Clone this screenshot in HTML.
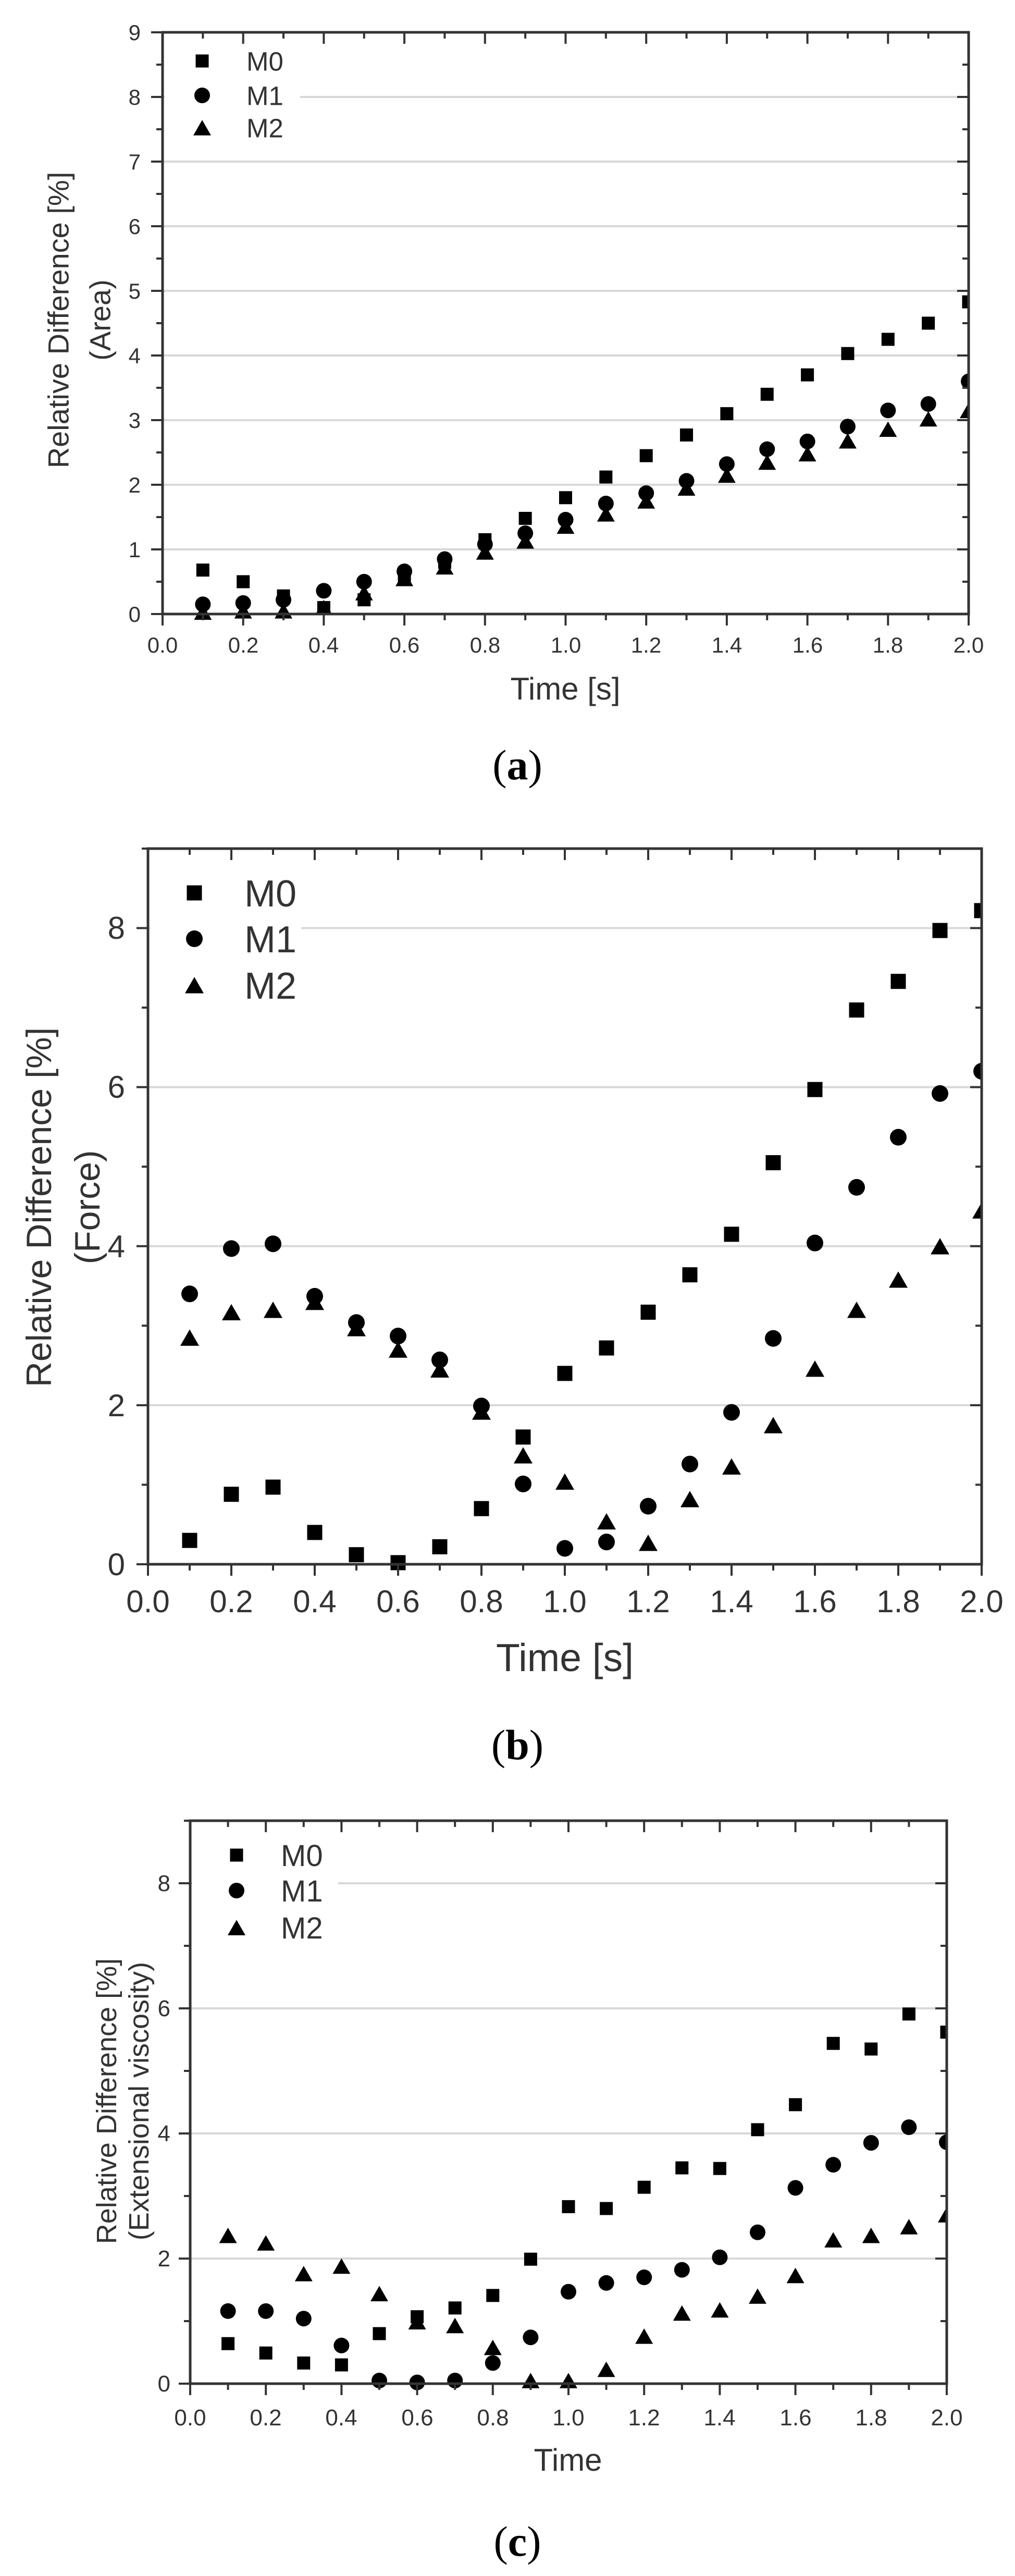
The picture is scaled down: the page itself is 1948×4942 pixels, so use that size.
<!DOCTYPE html>
<html><head><meta charset="utf-8">
<style>
html,body{margin:0;padding:0;background:#fff;}
svg{display:block;}
text{font-family:"Liberation Sans",sans-serif;fill:#333;}
.cap{font-family:"Liberation Serif",serif;fill:#000;}
</style></head>
<body>
<svg id="s" width="1948" height="4942" viewBox="0 0 1948 4942" xmlns="http://www.w3.org/2000/svg">
<rect width="1948" height="4942" fill="#fff"/>
<g id="plots"></g>

<!-- Panel a texts -->
<g font-size="42" text-anchor="end">
<text x="270" y="1193">0</text><text x="270" y="1069">1</text><text x="270" y="945">2</text><text x="270" y="821">3</text><text x="270" y="697">4</text><text x="270" y="573">5</text><text x="270" y="449">6</text><text x="270" y="325">7</text><text x="270" y="201">8</text><text x="270" y="77">9</text>
</g>
<g font-size="42" text-anchor="middle">
<text x="312" y="1252">0.0</text><text x="467" y="1252">0.2</text><text x="621" y="1252">0.4</text><text x="776" y="1252">0.6</text><text x="931" y="1252">0.8</text><text x="1086" y="1252">1.0</text><text x="1240" y="1252">1.2</text><text x="1395" y="1252">1.4</text><text x="1550" y="1252">1.6</text><text x="1704" y="1252">1.8</text><text x="1859" y="1252">2.0</text>
</g>
<text x="1085" y="1342" font-size="60" text-anchor="middle">Time [s]</text>
<text transform="translate(112,614) rotate(-90)" font-size="56" text-anchor="middle" dy="0.35em">Relative Difference [%]</text>
<text transform="translate(192,614) rotate(-90)" font-size="56" text-anchor="middle" dy="0.35em">(Area)</text>
<g font-size="51"><text x="473" y="117" dy="0.36em">M0</text><text x="473" y="183" dy="0.36em">M1</text><text x="473" y="245" dy="0.36em">M2</text></g>
<text class="cap" x="993" y="1495" font-size="82" text-anchor="middle">(<tspan font-weight="bold">a</tspan>)</text>

<!-- Panel b texts -->
<g font-size="60" text-anchor="end">
<text x="240" y="3022">0</text><text x="240" y="2717">2</text><text x="240" y="2412">4</text><text x="240" y="2106">6</text><text x="240" y="1801">8</text>
</g>
<g font-size="60" text-anchor="middle">
<text x="284" y="3093">0.0</text><text x="444" y="3093">0.2</text><text x="604" y="3093">0.4</text><text x="764" y="3093">0.6</text><text x="924" y="3093">0.8</text><text x="1084" y="3093">1.0</text><text x="1244" y="3093">1.2</text><text x="1404" y="3093">1.4</text><text x="1564" y="3093">1.6</text><text x="1724" y="3093">1.8</text><text x="1884" y="3093">2.0</text>
</g>
<text x="1084" y="3206" font-size="75" text-anchor="middle">Time [s]</text>
<text transform="translate(74,2316) rotate(-90)" font-size="68" text-anchor="middle" dy="0.35em">Relative Difference [%]</text>
<text transform="translate(167,2316) rotate(-90)" font-size="68" text-anchor="middle" dy="0.35em">(Force)</text>
<g font-size="72"><text x="469" y="1713" dy="0.36em">M0</text><text x="469" y="1801" dy="0.36em">M1</text><text x="469" y="1890" dy="0.36em">M2</text></g>
<text class="cap" x="993" y="3375" font-size="82" text-anchor="middle">(<tspan font-weight="bold">b</tspan>)</text>

<!-- Panel c texts -->
<g font-size="44" text-anchor="end">
<text x="327" y="4588">0</text><text x="327" y="4348">2</text><text x="327" y="4108">4</text><text x="327" y="3868">6</text><text x="327" y="3628">8</text>
</g>
<g font-size="44" text-anchor="middle">
<text x="365" y="4653">0.0</text><text x="510" y="4653">0.2</text><text x="655" y="4653">0.4</text><text x="801" y="4653">0.6</text><text x="946" y="4653">0.8</text><text x="1091" y="4653">1.0</text><text x="1236" y="4653">1.2</text><text x="1381" y="4653">1.4</text><text x="1527" y="4653">1.6</text><text x="1672" y="4653">1.8</text><text x="1817" y="4653">2.0</text>
</g>
<text x="1090" y="4740" font-size="60" text-anchor="middle">Time</text>
<text transform="translate(204,4031) rotate(-90)" font-size="54" text-anchor="middle" dy="0.35em">Relative Difference [%]</text>
<text transform="translate(266,4031) rotate(-90)" font-size="54" text-anchor="middle" dy="0.35em">(Extensional viscosity)</text>
<g font-size="58"><text x="539" y="3559" dy="0.36em">M0</text><text x="539" y="3627" dy="0.36em">M1</text><text x="539" y="3698" dy="0.36em">M2</text></g>
<text class="cap" x="993" y="4903" font-size="82" text-anchor="middle">(<tspan font-weight="bold">c</tspan>)</text>
</svg>
<script>
(function(){
var NS="http://www.w3.org/2000/svg",g=document.getElementById("plots");
function el(t,a){var e=document.createElementNS(NS,t);for(var k in a)e.setAttribute(k,a[k]);return e;}
var P=[
{L:312,R:1859,T:62,B:1178,maj:1,min:0.5,sq:25,r:15,tri:34,leg:{x:388,ys:[117,183,245],w:260,h:220},
d:[[.68,.5,.28,.1,.22,.6,.8,1.15,1.48,1.8,2.12,2.45,2.77,3.1,3.4,3.7,4.03,4.25,4.5,4.83],
[.15,.17,.22,.36,.5,.66,.85,1.08,1.25,1.46,1.71,1.87,2.06,2.32,2.55,2.67,2.9,3.15,3.25,3.6],
[.03,.05,.05,.1,.33,.55,.73,.96,1.13,1.36,1.55,1.75,1.95,2.15,2.35,2.48,2.68,2.86,3.02,3.15]]},
{L:284,R:1884,T:1628,B:3001,maj:2,min:1,sq:29,r:16,tri:36,leg:{x:373,ys:[1713,1801,1890],w:290,h:300},
d:[[.3,.88,.97,.4,.12,.02,.22,.7,1.6,2.4,2.72,3.17,3.64,4.15,5.05,5.97,6.97,7.33,7.97,8.22],
[3.4,3.97,4.03,3.37,3.04,2.87,2.57,1.99,1.01,.2,.28,.73,1.26,1.91,2.84,4.04,4.74,5.37,5.92,6.2],
[2.85,3.17,3.2,3.3,2.97,2.7,2.45,1.92,1.37,1.04,.54,.27,.82,1.23,1.75,2.46,3.2,3.58,4.0,4.45]]},
{L:365,R:1817,T:3493,B:4573,maj:2,min:1,sq:25,r:15,tri:34,leg:{x:454,ys:[3559,3627,3698],w:280,h:210},
d:[[.64,.49,.33,.3,.8,1.07,1.21,1.41,1.99,2.83,2.8,3.14,3.45,3.44,4.06,4.46,5.44,5.35,5.91,5.62],
[1.16,1.16,1.04,.61,.05,.02,.05,.33,.74,1.47,1.61,1.7,1.82,2.02,2.42,3.13,3.5,3.85,4.1,3.86],
[2.37,2.25,1.76,1.88,1.44,.99,.93,.58,.05,.05,.23,.76,1.13,1.18,1.4,1.73,2.3,2.37,2.51,2.7]]}
];
function marker(par,k,x,y,p){
 if(k==0)par.appendChild(el("rect",{x:x-p.sq/2,y:y-p.sq/2,width:p.sq,height:p.sq,fill:"#000"}));
 else if(k==1)par.appendChild(el("circle",{cx:x,cy:y,r:p.r,fill:"#000"}));
 else{var h=p.tri*0.87;par.appendChild(el("polygon",{points:(x-p.tri/2)+","+(y+h/2)+" "+(x+p.tri/2)+","+(y+h/2)+" "+x+","+(y-h/2),fill:"#000"}));}
}
P.forEach(function(p,i){
 var W=p.R-p.L,H=p.B-p.T,sy=H/9,sx=W/2;
 function X(v){return p.L+v*sx;} function Y(v){return p.B-v*sy;}
 for(var v=p.maj;v<9;v+=p.maj)g.appendChild(el("line",{x1:p.L,x2:p.R,y1:Y(v),y2:Y(v),stroke:"#d8d8d8","stroke-width":4}));
 g.appendChild(el("rect",{x:p.L+4,y:p.T+4,width:p.leg.w,height:p.leg.h,fill:"#fff"}));
 var cid="c"+i;var cp=el("clipPath",{id:cid});cp.appendChild(el("rect",{x:p.L-40,y:p.T,width:W+40,height:H+40}));g.appendChild(cp);
 var mg=el("g",{"clip-path":"url(#"+cid+")"});g.appendChild(mg);
 for(var s=2;s>=0;s--)for(var j=0;j<20;j++)marker(mg,s,X((j+1)/10),Y(p.d[s][j]),p);
 for(var s=0;s<3;s++)marker(g,s,p.leg.x,p.leg.ys[s],p);
 var ax="#333";
 g.appendChild(el("rect",{x:p.L,y:p.T,width:W,height:H,fill:"none",stroke:ax,"stroke-width":5}));
 for(var v=0;v<=9.001;v+=p.min){var isM=Math.abs(v/p.maj-Math.round(v/p.maj))<1e-6;var len=isM?22:12;var y=Y(v);
  g.appendChild(el("line",{x1:p.L-len,x2:p.L,y1:y,y2:y,stroke:ax,"stroke-width":4}));
  g.appendChild(el("line",{x1:p.R-len,x2:p.R,y1:y,y2:y,stroke:ax,"stroke-width":4}));}
 for(var t=0;t<=20;t++){var isM=t%2==0;var len=isM?22:12;var x=X(t/10);
  g.appendChild(el("line",{x1:x,x2:x,y1:p.B,y2:p.B+len,stroke:ax,"stroke-width":4}));
  g.appendChild(el("line",{x1:x,x2:x,y1:p.T,y2:p.T+len,stroke:ax,"stroke-width":4}));}
});
})();
</script>
</body></html>
